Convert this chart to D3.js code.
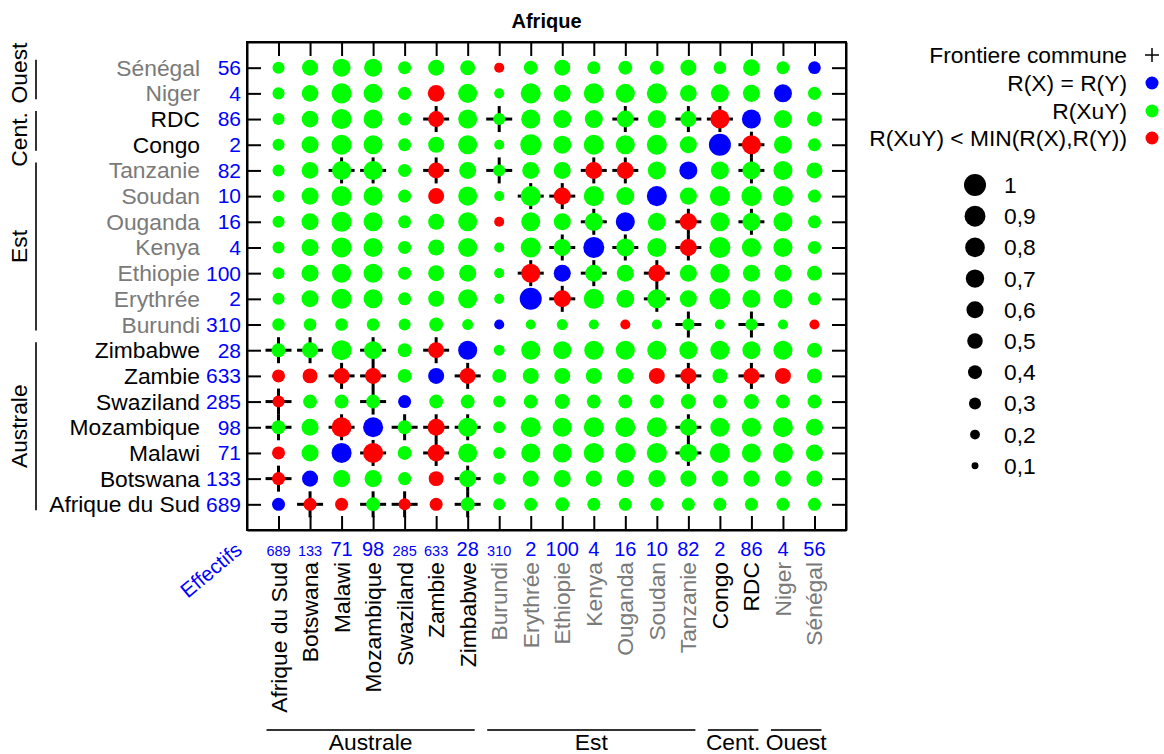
<!DOCTYPE html>
<html><head><meta charset="utf-8">
<script src="https://cdn.jsdelivr.net/npm/d3@7/dist/d3.min.js"></script>
<style>body{margin:0;background:#fff} text{font-family:"Liberation Sans",Arial,sans-serif}</style>
</head><body><svg id="c" width="1164" height="754"></svg>
<script>
const countries = ["Afrique du Sud","Botswana","Malawi","Mozambique","Swaziland","Zambie","Zimbabwe",
  "Burundi","Erythrée","Ethiopie","Kenya","Ouganda","Soudan","Tanzanie","Congo","RDC","Niger","Sénégal"];
const effectifs = [689,133,71,98,285,633,28,310,2,100,4,16,10,82,2,86,4,56];
const regionOf = ["Australe","Australe","Australe","Australe","Australe","Australe","Australe",
  "Est","Est","Est","Est","Est","Est","Est","Cent.","Cent.","Ouest","Ouest"];
const regionGroups = [
  {name:"Australe", first:"Afrique du Sud", last:"Zimbabwe"},
  {name:"Est", first:"Burundi", last:"Tanzanie"},
  {name:"Cent.", first:"Congo", last:"RDC"},
  {name:"Ouest", first:"Niger", last:"Sénégal"}];
// values[i][j] : R(XuY) for row country i, column country j
const values = [
 [0.35,0.35,0.35,0.40,0.30,0.35,0.40,0.30,0.35,0.40,0.35,0.35,0.35,0.35,0.35,0.35,0.35,0.35],
 [0.35,0.53,0.60,0.60,0.35,0.46,0.60,0.30,0.53,0.60,0.53,0.60,0.60,0.53,0.53,0.53,0.53,0.53],
 [0.35,0.60,0.83,0.83,0.40,0.60,0.75,0.30,0.75,0.75,0.83,0.83,0.83,0.67,0.83,0.75,0.83,0.60],
 [0.40,0.60,0.83,0.83,0.40,0.60,0.75,0.30,0.83,0.75,0.83,0.83,0.83,0.60,0.75,0.75,0.83,0.60],
 [0.30,0.40,0.40,0.40,0.35,0.40,0.40,0.30,0.40,0.46,0.40,0.40,0.40,0.46,0.40,0.46,0.40,0.40],
 [0.35,0.46,0.53,0.53,0.40,0.53,0.53,0.40,0.53,0.53,0.53,0.53,0.53,0.53,0.46,0.53,0.53,0.46],
 [0.40,0.53,0.83,0.67,0.40,0.53,0.75,0.25,0.75,0.67,0.75,0.75,0.75,0.67,0.75,0.67,0.75,0.46],
 [0.33,0.33,0.33,0.33,0.30,0.40,0.25,0.21,0.21,0.25,0.21,0.21,0.21,0.30,0.21,0.30,0.21,0.21],
 [0.30,0.60,0.83,0.75,0.35,0.53,0.75,0.21,1.00,0.60,0.83,0.67,0.75,0.60,0.91,0.67,0.75,0.35],
 [0.30,0.60,0.75,0.75,0.35,0.53,0.60,0.21,0.75,0.60,0.60,0.60,0.60,0.60,0.75,0.60,0.60,0.46],
 [0.30,0.60,0.83,0.75,0.35,0.53,0.75,0.21,0.83,0.60,0.91,0.67,0.75,0.60,0.91,0.75,0.75,0.35],
 [0.30,0.60,0.83,0.75,0.35,0.53,0.75,0.21,0.75,0.60,0.67,0.75,0.67,0.60,0.75,0.67,0.75,0.35],
 [0.30,0.60,0.83,0.75,0.35,0.53,0.75,0.21,0.83,0.60,0.83,0.67,0.83,0.60,0.83,0.83,0.83,0.35],
 [0.30,0.58,0.75,0.75,0.35,0.53,0.60,0.30,0.60,0.60,0.60,0.60,0.67,0.67,0.67,0.67,0.75,0.53],
 [0.30,0.60,0.83,0.75,0.35,0.53,0.75,0.21,0.91,0.67,0.83,0.75,0.83,0.60,1.00,0.75,0.67,0.35],
 [0.30,0.58,0.83,0.75,0.35,0.53,0.75,0.30,0.75,0.67,0.67,0.60,0.67,0.53,0.75,0.75,0.67,0.46],
 [0.30,0.58,0.83,0.75,0.35,0.58,0.75,0.21,0.83,0.60,0.83,0.75,0.83,0.58,0.67,0.60,0.67,0.35],
 [0.30,0.53,0.67,0.67,0.35,0.53,0.46,0.21,0.40,0.53,0.35,0.40,0.40,0.53,0.33,0.58,0.35,0.33]];
// b : R(X)=R(Y), g : R(XuY), r : R(XuY) < MIN(R(X),R(Y))
const categoryCodes = [
 "brrgrrgggggggggggg","rbgggrgggggggggggg","rgbrgrgggggggggggg","ggrbgrgggggggggggg",
 "rgggbggggggggggggg","rrrrgbrgggggrrgrrg","gggggrbggggggggggg","gggggggbgggrgggggr",
 "ggggggggbrgggggggg","ggggggggrbggrggggg","ggggggggggbggrgggg","gggggggrgggbgrgggg",
 "gggggrgggrggbggggg","gggggrggggrrgbgggg","ggggggggggggggbrgg","gggggrggggggggrbgg",
 "gggggrggggggggggbg","gggggggrgggggggggb"];
const borders = [
 ["Afrique du Sud","Botswana"],["Afrique du Sud","Mozambique"],["Afrique du Sud","Swaziland"],
 ["Afrique du Sud","Zimbabwe"],["Botswana","Zimbabwe"],["Malawi","Mozambique"],["Malawi","Zambie"],
 ["Malawi","Tanzanie"],["Mozambique","Swaziland"],["Mozambique","Zambie"],["Mozambique","Zimbabwe"],
 ["Mozambique","Tanzanie"],["Zambie","Zimbabwe"],["Zambie","Tanzanie"],["Zambie","RDC"],
 ["Burundi","Tanzanie"],["Burundi","RDC"],["Erythrée","Ethiopie"],["Erythrée","Soudan"],
 ["Ethiopie","Kenya"],["Ethiopie","Soudan"],["Kenya","Ouganda"],["Kenya","Tanzanie"],
 ["Ouganda","Tanzanie"],["Ouganda","RDC"],["Tanzanie","RDC"],["Congo","RDC"]];
const categoryLabels = ["R(X) = R(Y)","R(XuY)","R(XuY) < MIN(R(X),R(Y))"];
const categoryKeys = ["b","g","r"];
const legendSizes = [1,0.9,0.8,0.7,0.6,0.5,0.4,0.3,0.2,0.1];
const legendSizeLabels = ["1","0,9","0,8","0,7","0,6","0,5","0,4","0,3","0,2","0,1"];

const FS = 22.8;
const colorScale = d3.scaleOrdinal().domain(categoryKeys).range(["#0000ff","#00ff00","#ff0000"]);
const svg = d3.select("#c");
const L=247,R=846,T=42,B=530;
const x = d3.scalePoint().domain(countries).range([L,R]).padding(1);
const y = d3.scalePoint().domain(countries).range([B,T]).padding(1);
const r = d3.scaleSqrt().domain([0,1]).range([0,11]);
const nameColor = c => { const g = regionOf[countries.indexOf(c)]; return (g==="Australe"||g==="Cent.")?"#000":"#7a7a7a"; };

// title
svg.append("text").attr("x",(L+R)/2).attr("y",28).attr("text-anchor","middle")
  .attr("font-weight","bold").attr("font-size",20).text("Afrique");

// frame + inward ticks via axes
function styleAxis(g){ g.selectAll("path,line").attr("stroke","#000").attr("stroke-width",2); g.selectAll("text").remove(); }
svg.append("g").attr("transform",`translate(${L},0)`).call(d3.axisLeft(y).tickSizeInner(-14).tickSizeOuter(0)).call(styleAxis);
svg.append("g").attr("transform",`translate(${R},0)`).call(d3.axisRight(y).tickSizeInner(-14).tickSizeOuter(0)).call(styleAxis);
svg.append("g").attr("transform",`translate(0,${T})`).call(d3.axisTop(x).tickSizeInner(-14).tickSizeOuter(0)).call(styleAxis);
svg.append("g").attr("transform",`translate(0,${B})`).call(d3.axisBottom(x).tickSizeInner(-14).tickSizeOuter(0)).call(styleAxis);
svg.append("rect").attr("x",L).attr("y",T).attr("width",R-L).attr("height",B-T).attr("fill","none").attr("stroke","#000").attr("stroke-width",2);

// cells
const cells = [];
countries.forEach((rc,i)=>countries.forEach((cc,j)=>cells.push({row:rc,col:cc,v:values[i][j],k:categoryCodes[i][j]})));
const borderSet = new Set(borders.flatMap(([a,b])=>[a+"|"+b,b+"|"+a]));
const crossG = svg.append("g");
const arm = 13;
cells.filter(d=>borderSet.has(d.row+"|"+d.col)).forEach(d=>{
  const cx=x(d.col), cy=y(d.row);
  crossG.append("line").attr("x1",cx-arm).attr("x2",cx+arm).attr("y1",cy).attr("y2",cy).attr("stroke","#000").attr("stroke-width",3);
  crossG.append("line").attr("x1",cx).attr("x2",cx).attr("y1",cy-arm).attr("y2",cy+arm).attr("stroke","#000").attr("stroke-width",3);
});
svg.append("g").selectAll("circle").data(cells).join("circle")
  .attr("cx",d=>x(d.col)).attr("cy",d=>y(d.row)).attr("r",d=>r(d.v)).attr("fill",d=>colorScale(d.k));

// left labels
const gl = svg.append("g");
countries.forEach((c,i)=>{
  gl.append("text").attr("x",200).attr("y",y(c)).attr("dy","0.35em").attr("text-anchor","end")
    .attr("font-size",FS).attr("fill",nameColor(c)).text(c);
  gl.append("text").attr("x",241).attr("y",y(c)).attr("dy","0.35em").attr("text-anchor","end")
    .attr("font-size",21).attr("fill","#0000ff").text(effectifs[i]);
});
// bottom labels
const gb = svg.append("g");
countries.forEach((c,i)=>{
  gb.append("text").attr("x",x(c)).attr("y",556).attr("text-anchor","middle")
    .attr("font-size",effectifs[i]>100?14.5:20).attr("fill","#0000ff").text(effectifs[i]);
  gb.append("text").attr("transform",`translate(${x(c)},562) rotate(-90)`).attr("dy","0.35em")
    .attr("text-anchor","end").attr("font-size",FS).attr("fill",nameColor(c)).text(c);
});
svg.append("text").attr("transform","translate(211,570) rotate(-40)").attr("text-anchor","middle")
  .attr("dy","0.35em").attr("font-size",20.5).attr("fill","#0000ff").text("Effectifs");

// region brackets
const leftShift = {"Ouest":-6.5,"Cent.":8.5,"Est":0,"Australe":0};
regionGroups.forEach(g=>{
  const y1 = y(g.last)-8, y2 = y(g.first)+6;
  svg.append("line").attr("x1",36).attr("x2",36).attr("y1",y1).attr("y2",y2).attr("stroke","#333").attr("stroke-width",2);
  svg.append("text").attr("transform",`translate(27,${(y1+y2)/2+leftShift[g.name]}) rotate(-90)`)
    .attr("text-anchor","middle").attr("font-size",FS).attr("fill","#000").text(g.name);
  const x1 = x(g.first)-12, x2 = x(g.last)+7;
  svg.append("line").attr("x1",x1).attr("x2",x2).attr("y1",730).attr("y2",730).attr("stroke","#333").attr("stroke-width",2);
  svg.append("text").attr("x",(x1+x2)/2).attr("y",750).attr("text-anchor","middle")
    .attr("font-size",FS).attr("fill","#000").text(g.name);
});

// legend
const lg = svg.append("g");
lg.append("text").attr("x",1127).attr("y",55).attr("dy","0.35em").attr("text-anchor","end").attr("font-size",FS).text("Frontiere commune");
lg.append("line").attr("x1",1145).attr("x2",1159).attr("y1",55).attr("y2",55).attr("stroke","#000").attr("stroke-width",1.5);
lg.append("line").attr("x1",1152).attr("x2",1152).attr("y1",48).attr("y2",62).attr("stroke","#000").attr("stroke-width",1.5);
const legY = [83,111,138];
categoryKeys.forEach((k,i)=>{
  lg.append("text").attr("x",1127).attr("y",legY[i]).attr("dy","0.35em").attr("text-anchor","end").attr("font-size",FS).text(categoryLabels[i]);
  lg.append("circle").attr("cx",1152).attr("cy",legY[i]).attr("r",6.5).attr("fill",colorScale(k));
});
legendSizes.forEach((v,i)=>{
  const cy = 185 + i*31.2;
  lg.append("circle").attr("cx",975).attr("cy",cy).attr("r",r(v)).attr("fill","#000");
  lg.append("text").attr("x",1004).attr("y",cy).attr("dy","0.35em").attr("font-size",FS).text(legendSizeLabels[i]);
});
</script></body></html>
